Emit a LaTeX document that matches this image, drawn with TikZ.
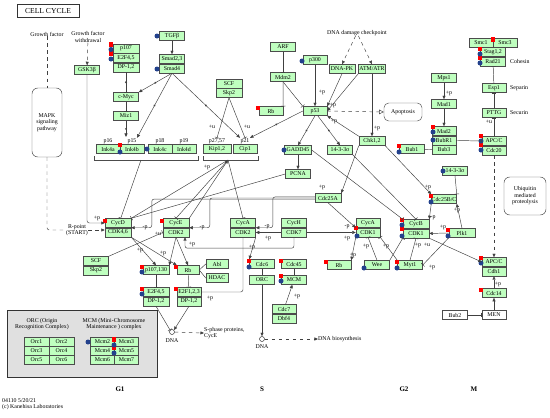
\documentclass[tikz,border=0pt]{standalone}
\usepackage{fontspec}
\setmainfont{Liberation Serif}
\usetikzlibrary{arrows.meta,positioning,decorations.markings}
\definecolor{kgreen}{RGB}{191,255,191}
\definecolor{kred}{RGB}{255,0,0}
\definecolor{kblue}{RGB}{35,65,140}
\newcommand{\gf}{\fontsize{5}{5.6}\selectfont}

\begin{document}
\begin{tikzpicture}[x=0.03cm,y=-0.03cm,
  gene/.style={draw=black!70,fill=kgreen,minimum height=0.27cm,minimum width=0.75cm,inner sep=0pt,font=\gf},
  gw/.style={minimum width=#1*0.03cm},
  ext/.style={gene,fill=white},
  lbl/.style={font=\gf,inner sep=0.3pt},
  txt/.style={font=\gf,align=center,inner sep=0pt},
  act/.style={-{Triangle[length=3pt,width=2.6pt]}},
  inh/.style={-{Bar[width=4pt]}},
  middot/.style={postaction={decorate},decoration={markings,mark=at position .5 with {\fill circle[radius=0.9pt];}}}]
\useasboundingbox (0,0) rectangle (550,418);
% title and free texts
\node[draw=black!80,line width=0.6pt,minimum width=1.86cm,minimum height=0.39cm,font=\fontsize{6.5}{7}\selectfont] (title) at (48,11) {CELL CYCLE};
\node[txt] (gf) at (47,34) {Growth factor};
\node[txt] (gfw) at (88,37) {Growth factor\\withdrawal};
\node[txt,draw=black!70,rounded corners=5pt,minimum width=0.9cm,minimum height=2.07cm] (mapk) at (47,122.5) {MAPK\\signaling\\pathway};
\node[txt] (rpoint) at (77,230) {R-point\\(START)};
\node[txt] (dnadc) at (357,33) {DNA damage checkpoint};
\node[txt,draw=black!70,rounded corners=4pt,minimum width=1.14cm,minimum height=0.54cm] (apop) at (403,112) {Apoptosis};
\node[txt,draw=black!70,rounded corners=5pt,minimum width=1.26cm,minimum height=1.14cm] (ubiq) at (525,196) {Ubiquitin\\mediated\\proteolysis};
\node[txt,anchor=west] (cohesin) at (510,61) {Cohesin};
\node[txt,anchor=west] (separin) at (510,88) {Separin};
\node[txt,anchor=west] (securin) at (510,113) {Securin};
% G1 side
\node[gene] (gsk) at (87,70) {GSK3β};
\node[gene,gw=26] (p107a) at (126,48.5) {p107};
\node[gene,gw=26,below=0pt of p107a] (e2f45a) {E2F4,5};
\node[gene,gw=26,below=0pt of e2f45a] (dp12a) {DP-1,2};
\node[gene] (tgfb) at (172,36) {TGFβ};
\node[gene] (smad23) at (172,59) {Smad2,3};
\node[gene,below=0pt of smad23] (smad4) {Smad4};
\node[gene] (cmyc) at (126,97) {c-Myc};
\node[gene] (miz1) at (126,116) {Miz1};
\foreach \s/\x/\p in {a/108/p16,b/132/p15,c/160/p18,d/184/p19}{
  \node[gene,gw=24] (ink4\s) at (\x,149) {Ink4\s};
  \node[lbl] (l\p) at (\x,141) {\p};}
\node[gene,gw=26] (scfa) at (229,83.5) {SCF};
\node[gene,gw=26,below=0pt of scfa] (skp2a) {Skp2};
\node[gene,gw=28] (kip) at (217,149) {Kip1,2};
\node[gene,gw=24] (cip) at (245,149) {Cip1};
\node[lbl] (lp2757) at (217,141) {p27,57};
\node[lbl] (lp21) at (245,141) {p21};
\draw[black!70] (94,156) -- (94,160) -- (198,160) -- (198,156);
\draw[black!70] (203,156) -- (203,160) -- (258,160) -- (258,156);
\coordinate (inkb) at (141,160);
\coordinate (kipb) at (228,160);
\coordinate (inkt) at (126,137);
\node[gene,gw=26] (cycd) at (118,223) {CycD};
\node[gene,gw=26,below=0pt of cycd] (cdk46) {CDK4,6};
\node[gene] (scfb) at (96,261) {SCF};
\node[gene,below=0pt of scfb] (skp2b) {Skp2};
\node[gene,gw=26] (cyce) at (176,223) {CycE};
\node[gene,gw=26,below=0pt of cyce] (cdk2a) {CDK2};
\node[gene] (cycab) at (243,223) {CycA};
\node[gene,below=0pt of cycab] (cdk2b) {CDK2};
\node[gene,gw=26] (p107b) at (156,270) {p107,130};
\node[gene,gw=22] (rbb) at (188,270) {Rb};
\node[gene,gw=22] (abl) at (217,264) {Abl};
\node[gene,gw=22] (hdac) at (217,278) {HDAC};
\node[gene,gw=26] (e2f45b) at (156,292) {E2F4,5};
\node[gene,gw=26,below=0pt of e2f45b] (dp12b) {DP-1,2};
\node[gene,gw=24] (e2f123) at (189,292) {E2F1,2,3};
\node[gene,gw=24,below=0pt of e2f123] (dp12c) {DP-1,2};
\node[circle,draw=black!80,minimum size=0.15cm,inner sep=0pt] (dnaa) at (172,332) {};
\node[txt] (ldnaa) at (172,341) {DNA};
\node[txt,anchor=west,align=left] (sph) at (204,333) {S-phase proteins,\\CycE};
% S side
\node[gene] (arf) at (283,47) {ARF};
\node[gene] (mdm2) at (283,77) {Mdm2};
\node[gene,gw=24] (p300) at (315,60) {p300};
\node[gene,gw=26] (dnapk) at (342,69) {DNA-PK};
\node[gene,gw=27] (atm) at (372,69) {ATM/ATR};
\node[gene,gw=24] (p53) at (315,111) {p53};
\node[gene,gw=24] (rba) at (271,111) {Rb};
\node[gene,gw=26] (chk) at (372,141) {Chk1,2};
\node[gene,gw=27] (gadd) at (298,150) {GADD45};
\node[gene] (sfna) at (340,150) {14-3-3σ};
\node[gene] (pcna) at (298,174) {PCNA};
\node[gene,gw=26] (cdc25a) at (328,198) {Cdc25A};
\node[gene] (cych) at (294,223) {CycH};
\node[gene,below=0pt of cych] (cdk7) {CDK7};
\node[gene,gw=24] (cycaa) at (368,223) {CycA};
\node[gene,gw=24,below=0pt of cycaa] (cdk1a) {CDK1};
\node[gene] (cdc6) at (262,264) {Cdc6};
\node[gene] (cdc45) at (294,264) {Cdc45};
\node[gene] (orc) at (262,280) {ORC};
\node[gene] (mcm) at (294,280) {MCM};
\node[gene,gw=24] (cdc7) at (284,309) {Cdc7};
\node[gene,gw=24,below=0pt of cdc7] (dbf4) {Dbf4};
\node[circle,draw=black!80,minimum size=0.15cm,inner sep=0pt] (dnab) at (262,339) {};
\node[txt] (ldnab) at (262,347) {DNA};
\node[txt,anchor=west] (dnabio) at (318,339) {DNA biosynthesis};
\node[gene,gw=24] (rbc) at (339,265) {Rb};
\node[gene] (wee) at (377,265) {Wee};
\node[gene] (myt1) at (410,265) {Myt1};
% G2 / M side
\node[gene,gw=24] (smc1) at (481,43) {Smc1};
\node[gene,gw=24] (smc3) at (505,43) {Smc3};
\node[gene] (stag) at (493,52) {Stag1,2};
\node[gene,below=0pt of stag] (rad21) {Rad21};
\node[gene,gw=24] (esp1) at (494,88) {Esp1};
\node[gene,gw=24] (pttg) at (494,113) {PTTG};
\node[gene] (mps1) at (444,78) {Mps1};
\node[gene] (mad1) at (444,104) {Mad1};
\node[gene,gw=24] (mad2) at (444,131) {Mad2};
\node[gene,gw=24,below=0pt of mad2] (bubr1) {BubR1};
\node[gene,gw=24,below=0pt of bubr1] (bub3) {Bub3};
\node[gene] (bub1) at (412,149) {Bub1};
\node[gene,gw=24] (apca) at (494,141) {APC/C};
\node[gene,gw=24,below=0pt of apca] (cdc20) {Cdc20};
\node[gene] (sfnb) at (455,171) {14-3-3σ};
\node[gene] (cdc25bc) at (444,199) {Cdc25B/C};
\node[gene,gw=26] (cycb) at (416,224) {CycB};
\node[gene,gw=26,below=0pt of cycb] (cdk1b) {CDK1};
\node[gene,gw=26] (plk1) at (462,233) {Plk1};
\node[gene,gw=24] (apcb) at (494,262) {APC/C};
\node[gene,gw=24,below=0pt of apcb] (cdh1) {Cdh1};
\node[gene,gw=24] (cdc14) at (494,293) {Cdc14};
\node[ext,gw=24] (men) at (494,315) {MEN};
\node[ext] (bub2) at (455,315) {Bub2};
% ORC / MCM complexes
\draw[black!80,line width=0.6pt,fill=black!12] (7,310) rectangle (157,377);
\node[txt] (orct) at (42,324) {ORC (Origin\\Recognition Complex)};
\node[txt] (mcmt) at (114,324) {MCM (Mini-Chromosome\\Maintenance ) complex};
\foreach \a/\b [count=\r from 0] in {1/2,3/4,5/6}{
  \node[gene] (orc\a) at (36.5,{342+9*\r}) {Orc\a};
  \node[gene] (orc\b) at (61.5,{342+9*\r}) {Orc\b};}
\foreach \a/\b [count=\r from 0] in {2/3,4/5,6/7}{
  \node[gene,gw=24] (mcm\a) at (102.5,{342+9*\r}) {Mcm\a};
  \node[gene,gw=24] (mcm\b) at (126.5,{342+9*\r}) {Mcm\b};}
% phases and footer
\foreach \t/\x in {G1/120,S/262,G2/404,M/474}
  \node[font=\bfseries\fontsize{6}{7}\selectfont] (ph\t) at (\x,389) {\t};
\node[txt,anchor=west,align=left] (foot) at (2,404) {04110 5/20/21\\(c) Kanehisa Laboratories};
% markers
\foreach \x/\y in {111/44.5,111/53.5,120/145,258/108,493/39.5,480/49,480/58,433/127,399/146,481/136,481/145,
  431/196,402/220,402/229,448/230,481/258,481/290,105/221,162/221,356/228,142/267,176/267,142/289,176/289,
  249/261,281/261,281/276,326/262,397/262,114/339.5,114/348}
  \fill[kred] (\x-2.3,\y-2.3) rectangle (\x+2.3,\y+2.3);
\foreach \x/\y in {111/49.5,111/59,157/36,157/69,120/152,147/149,302/61,480/54,480/63,433/132,433/140,399/152,
  481/141,481/150,284/150,443/171,431/202,402/225,402/236,448/236,481/263,357/236,142/272,142/294,249/267,
  281/281,364/268,397/268,88/342,114/345,114/353}
  \fill[kblue] (\x,\y) circle[radius=0.075cm];
% edge labels
\foreach \x/\y/\t [count=\i] in {97/218/+p,322/92/+p,333/105/+p,334/121/+p,377/128/+p,449/93/+p,489/122/+u,
  212/127/+u,247/127/+u,207/167/+p,145/228/-p,202/228/-p,267/227/-p,268/238/+p,347/227/-p,347/238/+p,
  322/187/+p,428/187/+p,457/210/+p,433/218/-p,443/227/+p,418/245/+p,427/245/+u,366/246/+p,386/246/+p,
  353/255/+p,432/267/+p,498/284/+p,210/298/+p,297/296/+p,158/234/+u,140/250/+p,163/253/+p,192/244/+p,252/247/+p}
  \node[lbl] (pl\i) at (\x,\y) {\t};
% connectors
\begin{scope}[black!75,line width=0.4pt,rounded corners=2pt]
\draw[dashed] (gf) -- (mapk);
\draw[dashed] (mapk.south) |- (rpoint.west);
\draw[dashed,act] (rpoint.east) -- (rpoint.east -| cdk46.west);
\draw[dashed,act] (gfw) -- (gsk);
\draw[act] (gsk.south) |- (cycd.west);
\draw[act] (tgfb) -- (smad23);
\draw[act,middot] (smad4.south) -- (cmyc.north east);
\draw[inh,middot] (dp12a) -- (cmyc);
\draw[inh] (cmyc) -- (miz1);
\draw[act,middot] (miz1.south) -- (inkt);
\draw[act,middot] (smad4.south) -- (lp15.north east);
\draw[act,middot] (smad4.south) -- (lp21.north west);
\draw[act,middot] (p53.west) -- (lp21.north east);
\draw[inh] (skp2a.south) -- (lp2757.north);
\draw[inh] (skp2a.south) -- (lp21.north);
\draw[inh] (inkb) -- (cycd.60);
\draw[inh] (kipb) -- (cycd.north east);
\draw[inh] (kipb) -- (cyce.north);
\draw[inh] (kipb) -- (cycab.north);
\draw[act] (cyce.north east) -- (kipb);
\draw (pcna.west) -- (cycd.north east);
\draw[act] ([yshift=-0.9pt]cdc25a.west) -- ++(-163,0) |- (cycd.south east);
\draw[act] (cdc25a.west) -- ++(-105,0) |- (cyce.south east);
\draw[act] ([yshift=0.9pt]cdc25a.west) -- ++(-42,0) |- (cycab.south east);
\draw[act] (cdc25a.south) -- (cycaa.south west);
\draw[act] (cdk7.east) -- (cdk1a.west);
\draw[act] (cdk7.west) -- (cdk2b.east);
\draw[act] (cdk7.south) -- ++(0,11) -| ([xshift=0.27cm]cdk2a.south);
\draw[inh] (scfb.north east) -- (cdk2a.west);
\draw[act] (cdk46.south east) -- (p107b.north);
\draw[act] (cdk46.south east) -- (rbb.north west);
\draw[act] (cdk2a.south) -- (p107b.north east);
\draw[act] (cdk2a.south) -- (rbb.north);
\draw[inh] (p107b) -- (e2f45b);
\draw[inh] (rbb) -- (e2f123);
\draw (rbb.east) -- (abl.west);
\draw (rbb.east) -- (hdac.west);
\draw[inh] (cdk2b.south) |- (e2f123.east);
\draw[act] (cdk2b.south east) -- (cdc6.north west);
\draw[inh] (dp12b.south) -- (dnaa.north west);
\draw[act] (dp12c.south) -- (dnaa.north east);
\draw[dashed,act] (dnaa) -- (sph.west);
\draw (cdc6) -- (orc);
\draw (cdc45) -- (mcm);
\draw[act] (orc) -- (dnab);
\draw[act] (cdc7) -- (mcm);
\draw[dashed,act] (dnab) -- (dnabio.west);
\draw[inh] (arf) -- (mdm2);
\draw[inh] (mdm2.south) -- (rba.north east);
\draw[inh] (mdm2.south) -- (p53.north west);
\draw[act] (p300) -- (p53);
\draw[dashed,act] (dnadc) -- (dnapk.north);
\draw[dashed,act] (dnadc) -- (atm.north);
\draw[act] (dnapk.south) -- (p53.north east);
\draw[act] (atm.south west) -- (p53.east);
\draw[act] (atm) -- (chk);
\draw[act] (chk.north west) -- (p53.south east);
\draw[dashed,-{Triangle[open,length=4pt,width=4pt]}] (p53.east) -- (apop.west);
\draw[act,middot] (p53.south) -- (gadd.north);
\draw[act,middot] (p53.-60) -- (sfna.north);
\draw[act] (gadd) -- (pcna);
\draw[inh] (gadd.east) -- (cycb.north west);
\draw[inh] (sfna.south east) -- (cycb.north);
\draw[act] (chk.south west) -- (cdc25a.north east);
\draw[act] (chk.south east) -- (cdc25bc.north west);
\draw[inh] (sfnb.south) -- (cdc25bc.north east);
\draw[act] (plk1.north) -- (cdc25bc.south east);
\draw[act] (cdc25bc.south west) -- (cycb.north east);
\draw[act] (plk1.west) -- (cdk1b.east);
\draw[act] (cdk1b.south east) -- (apcb.west);
\draw[inh] (plk1.south west) -- (myt1.east);
\draw[inh] (wee.north east) -- (cdk1b.south west);
\draw[inh] (myt1.north) -- (cdk1b.south);
\draw[act] (cdk1a.south west) -- (rbc.north east);
\draw[inh] (wee.north) -- (cdk1a.south);
\draw[inh] (myt1.north west) -- (cdk1a.south east);
\draw (bub1) -- (bub3);
\draw[inh] (bubr1.east) -- (apca.west);
\draw[act] (mps1) -- (mad1);
\draw[act] (mad1) -- (mad2);
\draw[inh] (apca) -- (pttg);
\draw[inh] (pttg) -- (esp1);
\draw[inh] (esp1) -- (rad21);
\draw[dashed,act] (cdc20) -- (apcb);
\draw[act] (men) -- (cdc14);
\draw[act] (cdc14) -- (cdh1);
\draw[inh] (bub2) -- (men);
\end{scope}
\end{tikzpicture}
\end{document}
